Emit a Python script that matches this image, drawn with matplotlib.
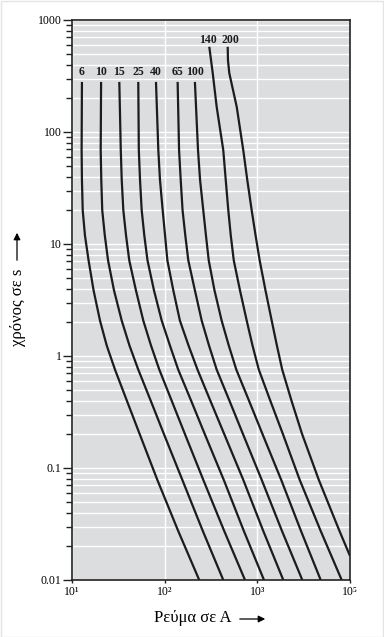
import matplotlib
matplotlib.use("Agg")
import matplotlib.pyplot as plt
from matplotlib.patches import FancyArrowPatch, Rectangle
from matplotlib.ticker import LogLocator, NullLocator, FixedLocator, NullFormatter

plt.rcParams['font.family'] = ['Liberation Serif', 'DejaVu Serif', 'DejaVu Sans']

# ---- data ----
fuse_labels = ["6", "10", "15", "25", "40", "65", "100", "140", "200"]
label_currents = [12.8, 20.6, 32.4, 51.9, 80.6, 138, 214, 294, 516]

# time levels (s) for the seven lower-rated fuses
t_main = [280, 68.8, 37.3, 20.0, 11.9, 7.13, 3.85, 2.07, 1.24, 0.756,
          0.399, 0.202, 0.0784, 0.0274, 0.01]
i_6 = [12.8, 12.7, 12.8, 13.05, 13.8, 15.1, 17.1, 20.05, 23.7, 29.1,
       39.1, 53.6, 83.3, 140, 236]
i_10 = [20.6, 20.4, 20.7, 21.2, 22.6, 24.5, 28.4, 34.4, 41.7, 51.9,
        70.7, 97.9, 155, 258, 429]
i_15 = [32.4, 33.6, 34.4, 35.8, 38.3, 41.5, 49.0, 58.8, 71.2, 87.5,
        119, 165, 261, 439, 736]
i_25 = [51.9, 52.6, 54.2, 56.5, 60.3, 65.3, 76.7, 92.9, 114, 140,
        193, 270, 434, 715, 1180]
i_40 = [80.6, 85.4, 89.0, 95.2, 101, 107, 124, 146, 181, 226,
        311, 438, 705, 1159, 1906]
i_65 = [138, 143, 149, 156, 167, 180, 212, 251, 301, 364,
        500, 698, 1114, 1845, 3057]
i_100 = [212, 229, 241, 261, 279, 299, 345, 412, 492, 593,
         813, 1134, 1809, 2959, 4828]

# the two high-rated fuses
t_140 = [577, 336, 168, 68.8, 37.3, 20.0, 11.9, 7.13, 3.85, 2.07, 1.24, 0.756,
         0.399, 0.202, 0.0784, 0.0274, 0.01]
i_140 = [303, 330, 364, 429, 456, 486, 517, 557, 650, 768, 887, 1037,
         1380, 1883, 2865, 4828, 8134]
t_200 = [577, 438, 336, 168, 68.8, 37.3, 20.0, 11.9, 7.13, 3.85, 2.07, 1.24,
         0.756, 0.399, 0.202, 0.0784, 0.0274, 0.0164]
i_200 = [479, 482, 498, 599, 705, 779, 869, 958, 1060, 1225, 1429, 1626,
         1855, 2337, 3034, 4604, 7700, 10000]

y_ticks = [0.01, 0.1, 1, 10, 100, 1000]
y_ticklabels = ["0.01", "0.1", "1", "10", "100", "1000"]
x_ticks = [10, 100, 1000, 10000]
x_ticklabels = ["10¹", "10²", "10³", "10⁵"]

label_t_low = 343
label_t_high = 663

# ---- figure ----
W, H = 384, 637
fig = plt.figure(figsize=(W / 100, H / 100), dpi=100)
fig.patch.set_facecolor("white")
fig.patches.append(Rectangle((0.5 / W, 0.5 / H), 1 - 1.5 / W, 1 - 1.5 / H,
                             transform=fig.transFigure, fill=False,
                             edgecolor="#e4e4e4", lw=1.0))
ax = fig.add_axes([72 / W, 1 - 580 / H, 278 / W, 560 / H])
ax.set_facecolor("#dcdddf")
ax.set_xscale("log")
ax.set_yscale("log")
ax.set_xlim(10, 10000)
ax.set_ylim(0.01, 1000)

ax.yaxis.set_major_locator(FixedLocator(y_ticks))
ax.set_yticklabels(y_ticklabels)
ax.yaxis.set_minor_locator(LogLocator(base=10, subs=[2, 3, 4, 5, 6, 7, 8, 9]))
ax.yaxis.set_minor_formatter(NullFormatter())
ax.xaxis.set_major_locator(FixedLocator(x_ticks))
ax.set_xticklabels(x_ticklabels)
ax.xaxis.set_minor_locator(NullLocator())

ax.grid(True, which="both", axis="y", color="white", lw=1.0)
ax.grid(True, which="major", axis="x", color="white", lw=1.0)
ax.set_axisbelow(True)

ax.tick_params(axis="y", which="major", direction="out", length=6.5, width=1.0,
               pad=1, labelsize=8.5, color="#222222")
ax.tick_params(axis="y", which="minor", direction="out", length=4.3, width=1.0,
               color="#222222")
ax.tick_params(axis="x", which="major", direction="out", length=2.5, width=1.0,
               pad=1.5, labelsize=8.5, color="#222222")
for s in ax.spines.values():
    s.set_color("#222222")
    s.set_linewidth(1.2)

curves = [(i_6, t_main), (i_10, t_main), (i_15, t_main), (i_25, t_main),
          (i_40, t_main), (i_65, t_main), (i_100, t_main),
          (i_140, t_140), (i_200, t_200)]
for lab, lx, (ii, tt) in zip(fuse_labels, label_currents, curves):
    ax.plot(ii, tt, color="#1c1c1c", lw=1.6, solid_capstyle="butt",
            solid_joinstyle="round")
    ty = label_t_high if tt[0] > 400 else label_t_low
    ax.text(lx, ty, lab, ha="center", va="center", fontsize=8.5,
            fontweight="bold", color="#1c1c1c")

# axis titles
fig.text(193 / W, 1 - 618 / H, "Ρεύμα σε A", ha="center", va="center", fontsize=12)
fig.text(18 / W, 1 - 307 / H, "χρόνος σε s", ha="center", va="center",
         fontsize=12, rotation=90)
fig.patches.append(FancyArrowPatch(
    (237 / W, 1 - 619 / H), (268 / W, 1 - 619 / H), transform=fig.transFigure,
    arrowstyle="-|>,head_length=4,head_width=2", lw=0.9, color="black",
    mutation_scale=1))
fig.patches.append(FancyArrowPatch(
    (17 / W, 1 - 263 / H), (17 / W, 1 - 230 / H), transform=fig.transFigure,
    arrowstyle="-|>,head_length=4,head_width=2", lw=0.9, color="black",
    mutation_scale=1))

fig.savefig("out.png", dpi=100)
